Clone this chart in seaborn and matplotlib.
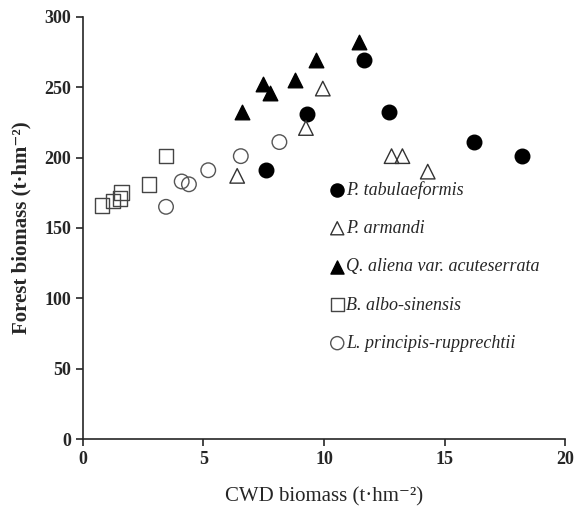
import numpy as np
import pandas as pd
import matplotlib
matplotlib.use('Agg')
import matplotlib.pyplot as plt
import seaborn as sns

# Data (CWD biomass vs forest biomass, t·hm-2)
species = ['P. tabulaeformis', 'P. armandi', 'Q. aliena var. acuteserrata',
           'B. albo-sinensis', 'L. principis-rupprechtii']

tab_x = [7.6, 9.3, 11.65, 12.7, 16.2, 18.2]
tab_y = [191, 231, 269, 232, 211, 201]

arm_x = [6.4, 9.25, 9.95, 12.8, 13.25, 14.3]
arm_y = [187, 221, 249, 201, 201, 190]

ali_x = [6.6, 7.45, 7.75, 8.8, 9.65, 11.45]
ali_y = [232, 252, 246, 255, 269, 282]

alb_x = [0.8, 1.25, 1.55, 1.6, 2.75, 3.45]
alb_y = [166, 169, 171, 175, 181, 201]

pri_x = [3.45, 4.1, 4.4, 5.2, 6.55, 8.15]
pri_y = [165, 183, 181, 191, 201, 211]

sns.set_style('ticks')
plt.rcParams['font.family'] = ['Liberation Serif', 'DejaVu Serif']

fig = plt.figure(figsize=(5.75, 5.24), dpi=100)
ax = fig.add_axes([0.144, 0.162, 0.839, 0.806])

styles = [
    (tab_x, tab_y, 'o', 'black', 'black', 110),
    (arm_x, arm_y, '^', 'none', '#333333', 110),
    (ali_x, ali_y, '^', 'black', 'black', 110),
    (alb_x, alb_y, 's', 'none', '#444444', 110),
    (pri_x, pri_y, 'o', 'none', '#555555', 110),
]

for name, (xs, ys, mk, fc, ec, sz) in zip(species, styles):
    df = pd.DataFrame({'x': xs, 'y': ys})
    sns.scatterplot(data=df, x='x', y='y', marker=mk, s=sz, facecolor=fc,
                    edgecolor=ec, linewidth=1.0, label=name, ax=ax)

ax.set_xlim(0, 20)
ax.set_ylim(0, 300)
ax.set_xticks(np.arange(0, 21, 5))
ax.set_yticks(np.arange(0, 301, 50))
sns.despine(ax=ax)
ax.spines['left'].set_linewidth(1.2)
ax.spines['bottom'].set_linewidth(1.2)
ax.tick_params(direction='out', length=5, width=1.2, labelsize=13)
for lab in ax.get_xticklabels() + ax.get_yticklabels():
    lab.set_fontweight('bold')

ax.set_xlabel('CWD biomass (t\u00b7hm\u207b\u00b2)', fontsize=15, labelpad=14)
ax.set_ylabel('Forest biomass (t\u00b7hm\u207b\u00b2)', fontsize=15,
              fontweight='bold', labelpad=9)

leg = ax.legend(loc='upper left', bbox_to_anchor=(0.49, 0.633), frameon=False,
                prop={'family': 'Liberation Serif', 'style': 'italic', 'size': 13},
                handletextpad=0.0, labelspacing=1.18, handlelength=1.0,
                markerscale=0.9, borderpad=0)

fig.savefig('out.png', dpi=100)
